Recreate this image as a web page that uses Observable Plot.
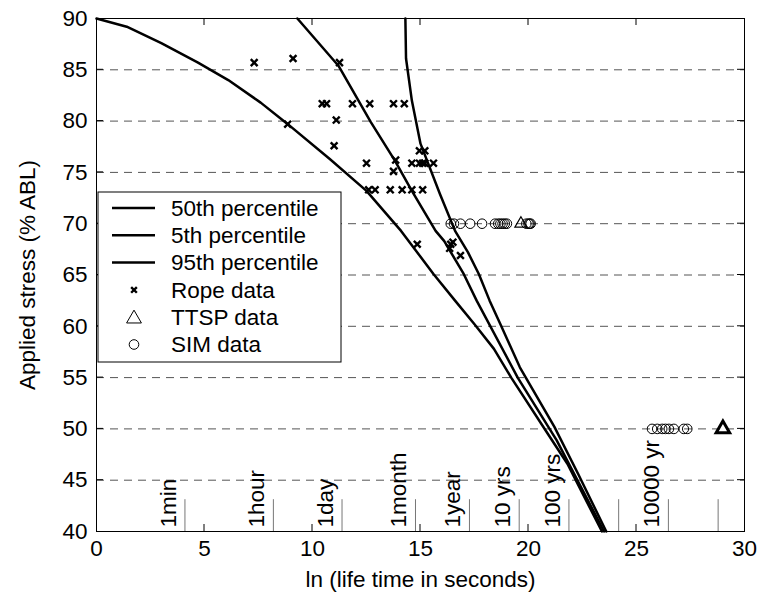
<!DOCTYPE html>
<html><head><meta charset="utf-8">
<script src="https://cdn.jsdelivr.net/npm/d3@7"></script>
<script src="https://cdn.jsdelivr.net/npm/@observablehq/plot@0.6"></script>
<style>body{margin:0;background:#fff} svg{display:block}</style>
</head><body><div id="chart"></div>
<script>
// Percentile curves: ln(life time in s) vs applied stress (% ABL)
const p5X  = [0, 1.4, 3.0, 4.7, 6.1, 7.6, 8.8, 10.8, 12.5, 14.1, 15.6, 16.6, 17.5, 18.4, 19.2, 20.9, 21.8, 23.4];
const p5Y  = [90, 89.2, 87.6, 85.7, 84.0, 81.8, 79.8, 76.3, 73.2, 69.3, 65.1, 62.5, 60.2, 57.8, 55.0, 49.5, 46.6, 40];
const p50X = [9.3, 11.2, 12.7, 13.8, 14.6, 15.7, 16.1, 17.0, 17.6, 19.5, 21.3, 23.5];
const p50Y = [90, 85.4, 79.9, 76.2, 73.2, 69.3, 68.3, 65.1, 62.5, 55.0, 48.9, 40];
const p95X = [14.3, 14.33, 14.6, 15.0, 15.9, 16.6, 17.2, 17.7, 18.2, 18.7, 19.6, 21.2, 22.3, 23.6];
const p95Y = [90, 86.1, 82.0, 77.8, 72.9, 69.3, 67.2, 65.1, 62.5, 60.2, 56.0, 50.2, 45.6, 40];

// Rope data
const ropeX = [7.3, 9.1, 11.25, 10.45, 10.65, 11.85, 12.65, 13.75, 14.25, 8.85, 11.1, 11.0, 12.5, 13.85, 13.75,
               14.95, 15.2, 14.6, 14.95, 15.1, 15.2, 15.6, 12.6, 12.9, 13.6, 14.15, 14.6, 15.1,
               14.85, 16.4, 16.5, 16.35, 16.85];
const ropeY = [85.7, 86.1, 85.7, 81.7, 81.7, 81.7, 81.7, 81.7, 81.7, 79.7, 80.1, 77.6, 75.9, 76.2, 75.1,
               77.1, 77.1, 75.9, 75.9, 75.9, 75.9, 75.9, 73.3, 73.3, 73.3, 73.3, 73.3, 73.3,
               68.0, 68.0, 68.2, 67.6, 66.9];

// SIM data
const simX = [16.4, 16.55, 16.85, 17.3, 17.85, 18.45, 18.6, 18.7, 18.8, 18.9, 19.0, 19.9, 20.0, 20.05, 20.1,
              25.72, 25.96, 26.19, 26.34, 26.5, 26.73, 27.19, 27.35];
const simY = [70, 70, 70, 70, 70, 70, 70, 70, 70, 70, 70, 70, 70, 70, 70,
              50, 50, 50, 50, 50, 50, 50, 50];

// TTSP data
const ttspX = [19.65, 29.0];
const ttspY = [70, 50];

// Time reference markers
const markSeconds = [60, 3600, 86400, 2592000, 31536000, 315360000, 3153600000, 31536000000, 315360000000, 3153600000000];
const markLabels  = ["1min", "1hour", "1day", "1month", "1year", "10 yrs", "100 yrs", "", "10000 yr", ""];

const xTicks = [0, 5, 10, 15, 20, 25, 30];
const yTicks = [40, 45, 50, 55, 60, 65, 70, 75, 80, 85, 90];
const gridY  = [45, 50, 55, 60, 65, 70, 75, 80, 85];

const legendLabels = ["50th percentile", "5th percentile", "95th percentile", "Rope data", "TTSP data", "SIM data"];

const zip = (xs, ys) => xs.map((x, i) => ({x, y: ys[i]}));
const p5 = zip(p5X, p5Y), p50 = zip(p50X, p50Y), p95 = zip(p95X, p95Y);
const rope = zip(ropeX, ropeY), sim = zip(simX, simY), ttsp = zip(ttspX, ttspY);
const marks = markSeconds.map((s, i) => ({x: Math.log(s), label: markLabels[i]}));

const font = "'Liberation Sans', Arial, Helvetica, sans-serif";
const fs = 22.5;

const plot = Plot.plot({
  width: 759, height: 597,
  marginLeft: 96, marginRight: 15, marginTop: 18, marginBottom: 66,
  style: {fontFamily: font, fontSize: fs + "px", color: "#000", background: "#fff", overflow: "visible"},
  x: {domain: [0, 30], ticks: xTicks, label: null, tickSize: 0, tickPadding: 9},
  y: {domain: [40, 90], ticks: yTicks, label: null, tickSize: 0, tickPadding: 9},
  marks: [
    Plot.ruleY(gridY, {stroke: "#555", strokeWidth: 1, strokeDasharray: "8,6"}),
    Plot.ruleX(marks, {x: "x", y1: 40, y2: 43.1, stroke: "#777", strokeWidth: 1}),
    Plot.text(marks, {x: "x", y: 40, text: "label", rotate: -90, textAnchor: "start", lineAnchor: "bottom",
                      dx: -9, dy: -4, fontSize: fs, fill: "#000"}),
    Plot.line(p5,  {x: "x", y: "y", stroke: "#000", strokeWidth: 2.5}),
    Plot.line(p50, {x: "x", y: "y", stroke: "#000", strokeWidth: 2.5}),
    Plot.line(p95, {x: "x", y: "y", stroke: "#000", strokeWidth: 2.5}),
    Plot.dot(rope, {x: "x", y: "y", symbol: "times", r: 3.2, stroke: "#000", strokeWidth: 2.4}),
    Plot.dot(sim,  {x: "x", y: "y", symbol: "circle", r: 4.8, stroke: "#000", strokeWidth: 1, fill: "none"}),
    Plot.dot(ttsp.filter(d => d.y > 60), {x: "x", y: "y", symbol: "triangle", r: 4.5, stroke: "#000", strokeWidth: 1.2, fill: "none"}),
    Plot.dot(ttsp.filter(d => d.y <= 60), {x: "x", y: "y", symbol: "triangle", r: 5, stroke: "#000", strokeWidth: 3, fill: "none"}),
    Plot.frame({stroke: "#000", strokeWidth: 1}),
    Plot.text(["Applied stress (% ABL)"], {frameAnchor: "left", rotate: -90, dx: -62, textAnchor: "middle", lineAnchor: "bottom", fontSize: fs, fill: "#000"}),
    Plot.text(["ln (life time in seconds)"], {frameAnchor: "bottom", dy: 55, textAnchor: "middle", lineAnchor: "bottom", fontSize: fs, fill: "#000"})
  ]
});

// inward ticks on all four sides, using the plot's scales
const sx = plot.scale("x"), sy = plot.scale("y");
const x0 = sx.apply(0), x1 = sx.apply(30), y0 = sy.apply(40), y1 = sy.apply(90);
const tl = 7;
const tg = d3.select(plot).append("g").attr("stroke", "#000").attr("stroke-width", 1);
for (const t of xTicks.slice(1, -1)) {
  const px = sx.apply(t);
  tg.append("line").attr("x1", px).attr("x2", px).attr("y1", y0).attr("y2", y0 - tl);
  tg.append("line").attr("x1", px).attr("x2", px).attr("y1", y1).attr("y2", y1 + tl);
}
for (const t of yTicks.slice(1, -1)) {
  const py = sy.apply(t);
  tg.append("line").attr("x1", x0).attr("x2", x0 + tl).attr("y1", py).attr("y2", py);
  tg.append("line").attr("x1", x1).attr("x2", x1 - tl).attr("y1", py).attr("y2", py);
}

// legend box inside the plot
const lg = d3.select(plot).append("g").attr("font-family", font).attr("font-size", fs).attr("text-anchor", "start");
const lx = x0 + 2, ly = 192, lw = 243, lh = 170, rowH = 27.3, row0 = ly + 16;
lg.append("rect").attr("x", lx).attr("y", ly).attr("width", lw).attr("height", lh)
  .attr("fill", "#fff").attr("stroke", "#000").attr("stroke-width", 1);
legendLabels.forEach((lab, i) => {
  const cy = row0 + i * rowH;
  if (i < 3) {
    lg.append("line").attr("x1", lx + 14).attr("x2", lx + 57).attr("y1", cy).attr("y2", cy)
      .attr("stroke", "#000").attr("stroke-width", 2.5);
  } else {
    const type = i === 3 ? d3.symbolTimes : i === 4 ? d3.symbolTriangle : d3.symbolCircle;
    const r = i === 3 ? 2.7 : i === 4 ? 5.5 : 4.8;
    lg.append("path").attr("d", d3.symbol(type, Math.PI * r * r)())
      .attr("transform", `translate(${lx + 36},${cy + (i === 4 ? 1.5 : 0)})`)
      .attr("fill", "none").attr("stroke", "#000").attr("stroke-width", i === 3 ? 2.4 : 1);
  }
  lg.append("text").attr("x", lx + 73).attr("y", cy).attr("dy", "0.35em")
    .attr("text-anchor", "start").attr("fill", "#000").text(lab);
});

document.getElementById("chart").appendChild(plot);
</script>
</body></html>
